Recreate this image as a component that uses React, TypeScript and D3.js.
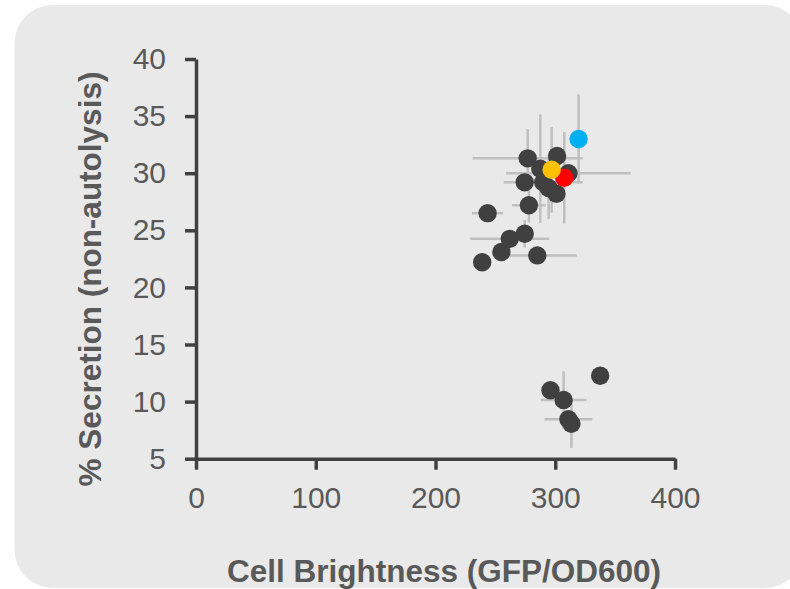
import React, { useEffect, useRef } from 'react'
import * as d3 from 'd3'

// brightness (x), secretion (y), and their error half-widths
const brightness = [277, 301.5, 287.5, 290, 311, 274.5, 294.5, 301, 278, 243.5, 274.5, 262, 255, 239, 285, 337.5, 296, 307, 311, 313.5]
const secretion = [31.3, 31.5, 30.4, 29.2, 30.0, 29.2, 28.7, 28.2, 27.2, 26.5, 24.7, 24.25, 23.1, 22.2, 22.8, 12.27, 11.0, 10.15, 8.45, 8.05]
const brightnessErr = [46, 0, 0, 33, 52, 0, 0, 0, 14, 13, 0, 33, 0, 0, 33, 0, 0, 19, 20, 0]
const secretionErr = [2.55, 0, 4.75, 0, 0, 0, 2.7, 0, 1.5, 0, 1.2, 0, 0, 0, 0, 0, 0, 2.5, 0, 2.1]

// highlighted strains, drawn on top
const hiBrightness = [307.5, 297, 319.5]
const hiSecretion = [29.6, 30.3, 33.0]
const hiSecretionErr = [4.0, 3.75, 3.9]
const hiColors = ['#ff0000', '#ffc000', '#00b0f0']

const xTicks = [0, 100, 200, 300, 400]
const yTicks = [5, 10, 15, 20, 25, 30, 35, 40]

const FONT = '"Liberation Sans", Arial, Helvetica, sans-serif'

const App = () => {
  const svgRef = useRef<SVGSVGElement>(null)

  useEffect(() => {
    const svg = d3.select(svgRef.current)
    svg.selectAll('*').remove()

    const x = d3.scaleLinear().domain([0, 400]).range([196, 675])
    const y = d3.scaleLinear().domain([5, 40]).range([458.7, 59])

    // rounded grey panel
    svg
      .append('rect')
      .attr('x', 14.5)
      .attr('y', 5)
      .attr('width', 788.5)
      .attr('height', 583)
      .attr('rx', 38)
      .attr('fill', '#e9e9e9')

    const all = brightness.map((b, i) => ({
      x: b,
      y: secretion[i],
      ex: brightnessErr[i],
      ey: secretionErr[i],
      color: '#404040',
    }))
    const hi = hiBrightness.map((b, i) => ({
      x: b,
      y: hiSecretion[i],
      ex: 0,
      ey: hiSecretionErr[i],
      color: hiColors[i],
    }))
    const points = all.concat(hi)

    // error bars behind the markers
    const errG = svg.append('g').attr('stroke', '#bfbfbf').attr('stroke-width', 2.5)
    points.forEach((d) => {
      if (d.ex > 0) {
        errG
          .append('line')
          .attr('x1', x(d.x - d.ex))
          .attr('x2', x(d.x + d.ex))
          .attr('y1', y(d.y))
          .attr('y2', y(d.y))
      }
      if (d.ey > 0) {
        errG
          .append('line')
          .attr('x1', x(d.x))
          .attr('x2', x(d.x))
          .attr('y1', y(d.y - d.ey))
          .attr('y2', y(d.y + d.ey))
      }
    })

    // axes
    const yAxis = d3
      .axisLeft(y)
      .tickValues(yTicks)
      .tickSizeInner(11)
      .tickSizeOuter(0)
      .tickPadding(19)
    const xAxis = d3
      .axisBottom(x)
      .tickValues(xTicks)
      .tickSizeInner(11)
      .tickSizeOuter(0)
      .tickPadding(17)

    const yG = svg.append('g').attr('transform', 'translate(196,0)').call(yAxis)
    const xG = svg.append('g').attr('transform', 'translate(0,458.7)').call(xAxis)
    ;[yG, xG].forEach((g) => {
      g.select('.domain').attr('stroke', '#404040').attr('stroke-width', 3.5)
      g.selectAll('.tick line').attr('stroke', '#404040').attr('stroke-width', 3.5)
      g.selectAll('.tick text')
        .attr('fill', '#595959')
        .style('font-family', FONT)
        .style('font-size', '30px')
    })

    // markers
    svg
      .append('g')
      .selectAll('circle')
      .data(points)
      .enter()
      .append('circle')
      .attr('cx', (d) => x(d.x))
      .attr('cy', (d) => y(d.y))
      .attr('r', 9.2)
      .attr('fill', (d) => d.color)

    // titles
    svg
      .append('text')
      .attr('x', 227)
      .attr('y', 582)
      .attr('fill', '#595959')
      .style('font-family', FONT)
      .style('font-weight', 'bold')
      .style('font-size', '31.5px')
      .text('Cell Brightness (GFP/OD600)')

    svg
      .append('text')
      .attr('transform', 'translate(101,279) rotate(-90)')
      .attr('text-anchor', 'middle')
      .attr('fill', '#595959')
      .style('font-family', FONT)
      .style('font-weight', 'bold')
      .style('font-size', '31.5px')
      .text('% Secretion (non-autolysis)')
  }, [])

  return (
    <svg
      ref={svgRef}
      width={790}
      height={589}
      style={{ position: 'absolute', left: 0, top: 0, background: '#ffffff' }}
    ></svg>
  )
}

export default App
